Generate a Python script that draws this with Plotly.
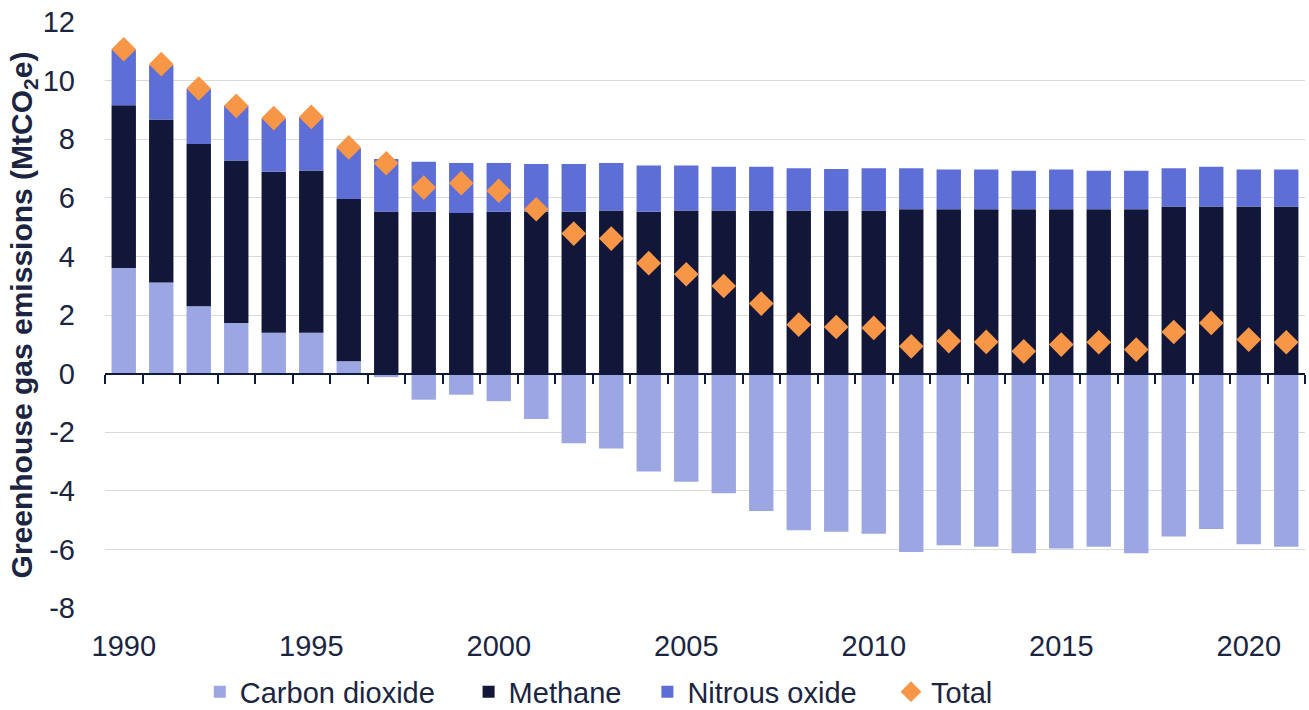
import plotly.graph_objects as go

years = list(range(1990, 2022))
carbon_dioxide = [3.60, 3.11, 2.30, 1.73, 1.39, 1.39, 0.42, -0.12, -0.89, -0.72,
                  -0.94, -1.55, -2.38, -2.56, -3.34, -3.69, -4.08, -4.69, -5.35, -5.40,
                  -5.47, -6.09, -5.86, -5.91, -6.13, -5.97, -5.91, -6.13, -5.56, -5.30,
                  -5.82, -5.91]
methane = [5.56, 5.56, 5.54, 5.54, 5.50, 5.54, 5.54, 5.53, 5.52, 5.48,
           5.52, 5.52, 5.52, 5.57, 5.52, 5.57, 5.57, 5.57, 5.57, 5.57,
           5.57, 5.61, 5.61, 5.61, 5.61, 5.61, 5.61, 5.61, 5.70, 5.70,
           5.70, 5.70]
nitrous_oxide = [1.89, 1.85, 1.87, 1.87, 1.81, 1.82, 1.73, 1.79, 1.71, 1.71,
                 1.67, 1.63, 1.63, 1.62, 1.58, 1.53, 1.49, 1.49, 1.44, 1.41,
                 1.44, 1.40, 1.36, 1.36, 1.31, 1.36, 1.31, 1.31, 1.31, 1.36,
                 1.27, 1.27]
total = [11.07, 10.56, 9.73, 9.14, 8.72, 8.76, 7.72, 7.18, 6.35, 6.50,
         6.24, 5.61, 4.78, 4.61, 3.77, 3.39, 2.99, 2.39, 1.67, 1.59,
         1.56, 0.93, 1.11, 1.08, 0.76, 0.99, 1.07, 0.82, 1.42, 1.73,
         1.16, 1.07]
label_years = [1990, 1995, 2000, 2005, 2010, 2015, 2020]
y_ticks = [-8, -6, -4, -2, 0, 2, 4, 6, 8, 10, 12]
y_ticktext = [str(v) for v in y_ticks]

TEXT = "#1b2541"
FONT = "Arial, Liberation Sans, sans-serif"
c_co2 = "#9BA6E3"
c_ch4 = "#12173A"
c_n2o = "#5D6FD6"
c_tot = "#F79646"

fig = go.Figure()
fig.add_trace(go.Bar(x=years, y=carbon_dioxide, name="Carbon dioxide", legend="legend",
                     marker=dict(color=c_co2, line=dict(width=0))))
fig.add_trace(go.Bar(x=years, y=methane, name="Methane", legend="legend2",
                     marker=dict(color=c_ch4, line=dict(width=0))))
fig.add_trace(go.Bar(x=years, y=nitrous_oxide, name="Nitrous oxide", legend="legend3",
                     marker=dict(color=c_n2o, line=dict(width=0))))
fig.add_trace(go.Scatter(x=years, y=total, name="Total", mode="markers",
                         xaxis="x2", legend="legend4",
                         marker=dict(symbol="diamond", size=19, color=c_tot,
                                     line=dict(width=0))))

xr = [years[0] - 0.5, years[-1] + 0.5]
boundaries = [y - 0.5 for y in years] + [years[-1] + 0.5]

def leg(x):
    return dict(orientation="h", x=x, xanchor="left", y=-0.143, yanchor="middle",
                font=dict(size=29, color=TEXT), bgcolor="rgba(0,0,0,0)")

fig.update_layout(
    width=1309, height=710,
    margin=dict(l=105, r=4, t=22, b=102, autoexpand=False),
    paper_bgcolor="white", plot_bgcolor="white",
    barmode="relative", bargap=0.35,
    font=dict(family=FONT, size=29, color=TEXT),
    showlegend=True,
    legend=leg(0.079),
    legend2=leg(0.303),
    legend3=leg(0.452),
    legend4=leg(0.655),
    xaxis=dict(range=xr, tickvals=label_years, ticks="", showline=False,
               showgrid=False, zeroline=False, ticklabelstandoff=18,
               automargin=False, tickfont=dict(size=29, color=TEXT)),
    xaxis2=dict(range=xr, overlaying="x", anchor="free", position=0.4,
                showline=True, linecolor="#0e1a3c", linewidth=2,
                ticks="outside", ticklen=9, tickwidth=2, tickcolor="#0e1a3c",
                tickvals=boundaries, showticklabels=False, showgrid=False,
                zeroline=False, automargin=False),
    yaxis=dict(range=[-8, 12], tickvals=y_ticks, ticktext=y_ticktext,
               showgrid=True, gridcolor="#d9d9d9", gridwidth=1, zeroline=False,
               showline=False, ticks="", ticklabelstandoff=29, automargin=False,
               tickfont=dict(size=29, color=TEXT),
               title=dict(text="<b>Greenhouse gas emissions (MtCO<sub>2</sub>e)</b>",
                          font=dict(size=30, color=TEXT), standoff=1)),
)

fig.write_html("out.html", config={"displayModeBar": False},
               post_script="document.body.style.margin='0';document.body.style.padding='0';")
